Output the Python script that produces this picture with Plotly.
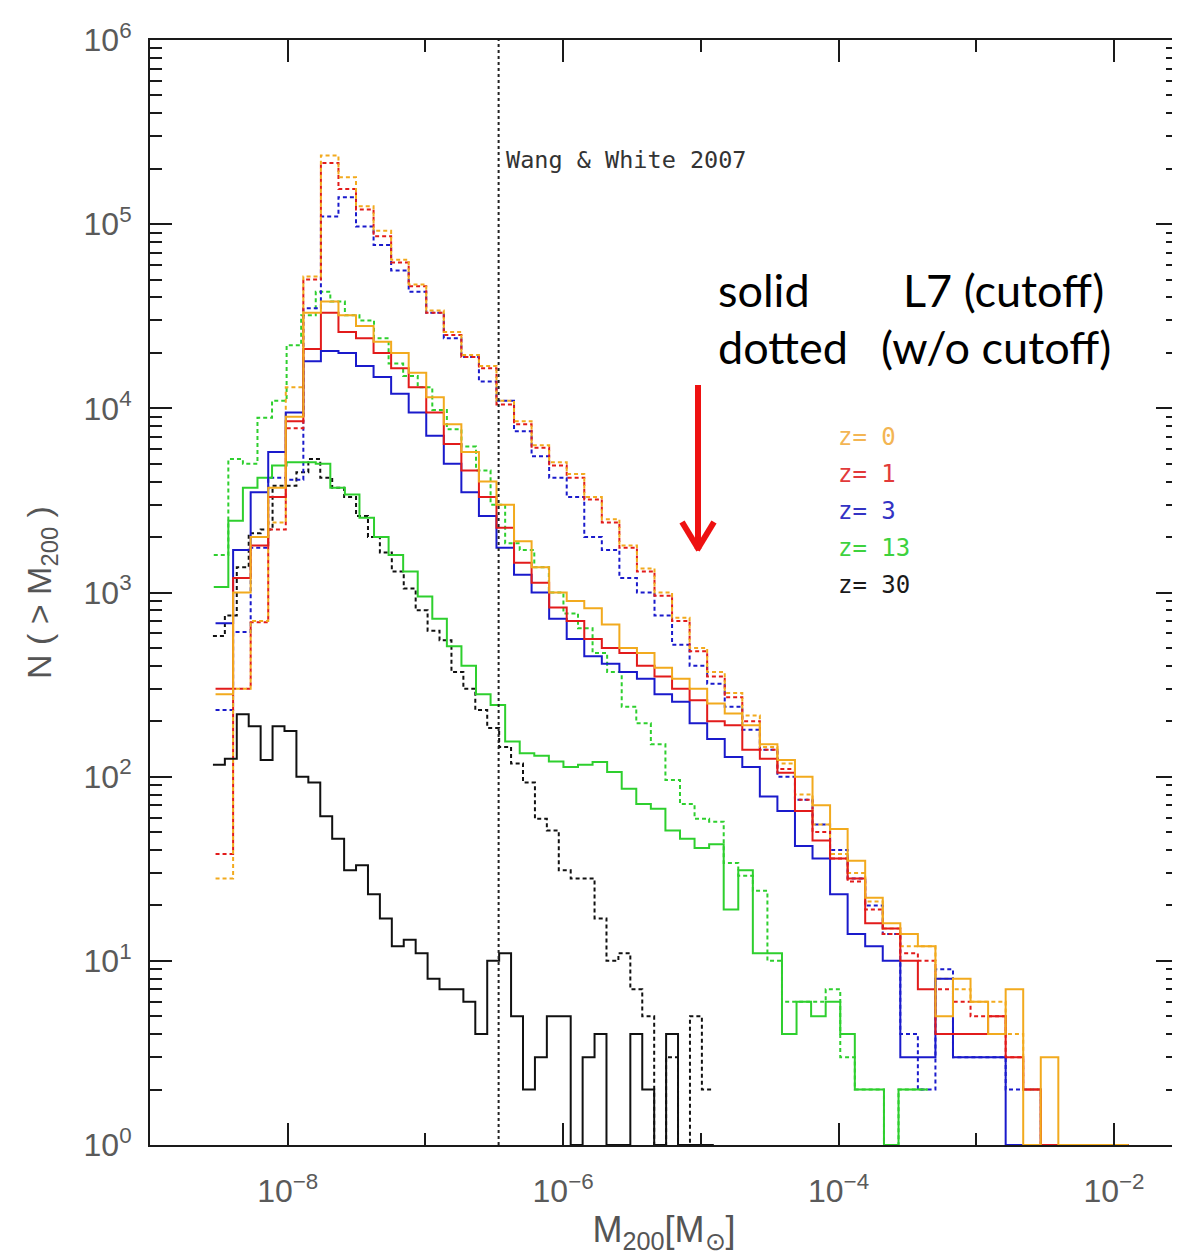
import plotly.graph_objects as go

# ---------------- data ----------------
# Histogram binning in log10(M200/Msun): first lower edge and bin width per redshift group
LOG_EDGE0_Z0_1_3 = -8.524
DLOG_Z0_1_3 = 0.1275
LOG_EDGE0_Z13 = -8.537
DLOG_Z13 = 0.1058
LOG_EDGE0_Z30 = -8.543
DLOG_Z30 = 0.0866

# counts per bin N(>M200) (0 = empty bin)
OS_Z0 = [280, 1000, 2000, 3700, 9000, 33000, 38000, 32000, 28000, 23000,
         20000, 15600, 11500, 8200, 5800, 4000, 3000, 1900, 1370, 1000,
         900, 820, 670, 500, 470, 390, 340, 300, 250, 220,
         190, 150, 123, 100, 70, 52, 35, 22, 16, 14,
         12, 5, 8, 6, 4, 7, 0, 3, 0, 0,
         0, 0]
OD_Z0 = [28, 300, 700, 2400, 13000, 52000, 236000, 180000, 125000, 92000,
         64000, 47000, 34000, 26000, 19500, 17000, 11000, 8500, 6300, 5100,
         4400, 3300, 2500, 1800, 1350, 1000, 730, 500, 370, 285,
         215, 145, 118, 80, 55, 38, 30, 21, 15, 12,
         12, 8, 7, 6, 6, 4, 2, 0, 0, 0,
         0, 0]
RS_Z1 = [300, 1200, 1800, 3300, 8500, 21000, 33000, 26000, 24000, 20000,
         16500, 13000, 9500, 6400, 4600, 3300, 2250, 1450, 1130, 830,
         700, 560, 500, 470, 400, 350, 300, 260, 200, 190,
         140, 125, 105, 65, 45, 36, 28, 16, 15, 10,
         7, 4, 4, 4, 5, 3, 2, 0, 0, 0,
         0, 0]
RD_Z1 = [38, 300, 690, 2200, 7800, 50000, 215000, 155000, 120000, 86000,
         62000, 46000, 33000, 25000, 19000, 16500, 10500, 8200, 6100, 4900,
         4200, 3200, 2400, 1750, 1300, 960, 700, 480, 350, 270,
         200, 140, 110, 75, 50, 36, 27, 19, 14, 11,
         10, 7, 6, 5, 5, 3, 2, 0, 0, 0,
         0, 0]
BS_Z3 = [680, 1700, 3500, 5800, 9500, 18000, 20500, 20000, 17000, 14800,
         12000, 9500, 7100, 5000, 3500, 2600, 1750, 1250, 1000, 720,
         560, 450, 410, 370, 340, 280, 255, 195, 160, 128,
         113, 78, 65, 42, 36, 23, 14, 12, 10, 3,
         3, 8, 3, 3, 3, 0, 0, 0, 0, 0,
         0, 0]
BD_Z3 = [230, 610, 1750, 4200, 4100, 35000, 110000, 140000, 97000, 77000,
         56000, 43000, 33000, 24000, 19000, 14000, 11000, 7500, 5500, 4200,
         3300, 2000, 1700, 1200, 1000, 750, 520, 400, 320, 240,
         180, 140, 100, 75, 55, 40, 28, 20, 14, 4,
         2, 9, 3, 3, 3, 2, 2, 0, 0, 0,
         0, 0]
GS_Z13 = [1070, 2450, 3700, 4200, 4900, 5100, 5100, 5000, 3700, 3400,
          2550, 2000, 1600, 1300, 950, 720, 510, 400, 280, 245,
          155, 134, 130, 121, 113, 116, 120, 106, 86, 71,
          67, 51, 46, 41, 43, 19, 31, 11, 11, 4,
          6, 5, 6, 4, 2, 2, 0, 2, 2]
GD_Z13 = [1600, 5300, 5000, 8900, 11000, 22000, 32000, 43000, 38000, 32000,
          30000, 24000, 17500, 15000, 13000, 9800, 7700, 6200, 4600, 3000,
          1850, 1700, 1370, 1000, 770, 640, 470, 370, 240, 195,
          150, 96, 71, 59, 57, 34, 29, 24, 10, 6,
          6, 6, 7, 3, 2, 2, 0, 2, 2]
KS_Z30 = [116, 125, 218, 188, 123, 188, 177, 100, 93, 61,
          46, 31, 33, 23, 17, 12, 13, 11, 8, 7,
          7, 6, 4, 10, 11, 5, 2, 3, 5, 5,
          0, 3, 4, 0, 0, 4, 2, 0, 4, 0,
          0, 0]
KD_Z30 = [580, 750, 1370, 2100, 2200, 3800, 3800, 4500, 5300, 4200,
          3700, 3300, 2600, 2000, 1650, 1300, 1050, 800, 620, 550,
          370, 300, 230, 184, 145, 118, 93, 59, 51, 31,
          28, 28, 17, 10, 11, 7, 5, 0, 3, 0,
          5, 2]

WW07_MASS = 3.4e-7
REDSHIFT_LABELS = ["z= 0", "z= 1", "z= 3", "z= 13", "z= 30"]
X_TICK_VALS = [1e-8, 1e-6, 1e-4, 1e-2]
X_TICK_TEXT = ["10<sup>−8</sup>", "10<sup>−6</sup>", "10<sup>−4</sup>", "10<sup>−2</sup>"]
X_MINOR_VALS = [1e-9, 1e-7, 1e-5, 1e-3]
Y_TICK_VALS = [1, 10, 100, 1e3, 1e4, 1e5, 1e6]
Y_TICK_TEXT = ["10<sup>%d</sup>" % i for i in range(7)]

# ---------------- styles ----------------
ORANGE = "#F2AA1E"
RED = "#E21B1B"
BLUE = "#1A1ACB"
GREEN = "#2ECF2E"
BLACK = "#111111"
LABEL_COLORS = ["#F3B553", "#E23A3A", "#3333C4", "#3ED23E", "#1A1A1A"]
DOT = "4px,3px"
TICK_FONT = dict(family="Liberation Sans, Arial, sans-serif", size=32, color="#5a5a5a")


def step_xy(log_edge0, dlog, counts):
    edges = [10 ** (log_edge0 + dlog * i) for i in range(len(counts) + 1)]
    ys = [max(c, 1) for c in counts]
    return edges, ys + [ys[-1]]


fig = go.Figure()

series = [
    (LOG_EDGE0_Z30, DLOG_Z30, KD_Z30, BLACK, DOT),
    (LOG_EDGE0_Z13, DLOG_Z13, GD_Z13, GREEN, DOT),
    (LOG_EDGE0_Z0_1_3, DLOG_Z0_1_3, BD_Z3, BLUE, DOT),
    (LOG_EDGE0_Z0_1_3, DLOG_Z0_1_3, RD_Z1, RED, DOT),
    (LOG_EDGE0_Z0_1_3, DLOG_Z0_1_3, OD_Z0, ORANGE, DOT),
    (LOG_EDGE0_Z30, DLOG_Z30, KS_Z30, BLACK, "solid"),
    (LOG_EDGE0_Z13, DLOG_Z13, GS_Z13, GREEN, "solid"),
    (LOG_EDGE0_Z0_1_3, DLOG_Z0_1_3, BS_Z3, BLUE, "solid"),
    (LOG_EDGE0_Z0_1_3, DLOG_Z0_1_3, RS_Z1, RED, "solid"),
    (LOG_EDGE0_Z0_1_3, DLOG_Z0_1_3, OS_Z0, ORANGE, "solid"),
]
for lo, d, counts, col, dash in series:
    xs, ys = step_xy(lo, d, counts)
    fig.add_trace(go.Scatter(x=xs, y=ys, mode="lines", line_shape="hv",
                             line=dict(color=col, width=2, dash=dash),
                             hoverinfo="skip", showlegend=False))

# Wang & White 2007 vertical line
fig.add_trace(go.Scatter(x=[WW07_MASS, WW07_MASS], y=[1, 1e6], mode="lines",
                         line=dict(color="#222", width=2, dash="3px,3px"),
                         hoverinfo="skip", showlegend=False))

axis_common = dict(type="log", showline=True, linecolor="#1a1a1a", linewidth=2,
                   mirror="allticks", ticks="inside", ticklen=22, tickwidth=1.6,
                   tickcolor="#1a1a1a", showgrid=False, zeroline=False,
                   automargin=False, tickfont=TICK_FONT)

fig.update_xaxes(**axis_common, range=[-9, -1.535],
                 tickmode="array", tickvals=X_TICK_VALS, ticktext=X_TICK_TEXT,
                 ticklabelstandoff=17,
                 minor=dict(tickmode="array", tickvals=X_MINOR_VALS, ticks="inside",
                            ticklen=12, tickwidth=1.6, tickcolor="#1a1a1a", showgrid=False),
                 title=dict(text="M<sub>200</sub>[M<sub>⊙</sub>]", standoff=6,
                            font=dict(family="Liberation Sans, Arial, sans-serif", size=36, color="#555")))

y_minor = [m * 10 ** e for e in range(6) for m in range(2, 10)]
fig.update_yaxes(**axis_common, range=[0, 6],
                 tickmode="array", tickvals=Y_TICK_VALS, ticktext=Y_TICK_TEXT,
                 ticklabelstandoff=10,
                 minor=dict(tickmode="array", tickvals=y_minor, ticks="inside",
                            ticklen=12, tickwidth=1.6, tickcolor="#1a1a1a", showgrid=False),
                 title=dict(text="N ( > M<sub>200</sub> )", standoff=22,
                            font=dict(family="Liberation Sans, Arial, sans-serif", size=34, color="#555")))

# the page body adds an 8px offset; figure-coordinate plot box that lands on the reference's box
OFF = 8
PL, PR, PT, PB = 150 - OFF, 1178 - OFF, 40 - OFF, 1145 - OFF
W, H = 1180, 1257


def px(x):
    # x given in screen pixels of the reference
    return (x - OFF - PL) / (PR - PL)


def py(y):
    return (PB - (y - OFF)) / (PB - PT)


BIG_FONT = dict(family="Lato, Open Sans, sans-serif", size=45, color="black")
annotations = [
    dict(x=px(504), y=py(160), text="Wang & White 2007", xanchor="left", yanchor="middle",
         font=dict(family="DejaVu Sans Mono", size=23.5, color="#333")),
    dict(x=px(716), y=py(290), text="solid", xanchor="left", yanchor="middle", font=BIG_FONT),
    dict(x=px(1106), y=py(290), text="L7 (cutoff)", xanchor="right", yanchor="middle", font=BIG_FONT),
    dict(x=px(716), y=py(347), text="dotted", xanchor="left", yanchor="middle", font=BIG_FONT),
    dict(x=px(1113), y=py(347), text="(w/o cutoff)", xanchor="right", yanchor="middle", font=BIG_FONT),
]
for i, (lab, col) in enumerate(zip(REDSHIFT_LABELS, LABEL_COLORS)):
    annotations.append(dict(x=px(836), y=py(437 + 37 * i), text=lab, xanchor="left", yanchor="middle",
                            font=dict(family="DejaVu Sans Mono", size=24, color=col)))
for a in annotations:
    a.update(xref="paper", yref="paper", showarrow=False)

ARROW = dict(color="#EE1111", width=6)
shapes = [
    dict(type="line", xref="paper", yref="paper", x0=px(698), x1=px(698), y0=py(385), y1=py(548),
         line=ARROW),
    dict(type="line", xref="paper", yref="paper", x0=px(682), x1=px(699), y0=py(522), y1=py(550),
         line=ARROW),
    dict(type="line", xref="paper", yref="paper", x0=px(714), x1=px(697), y0=py(522), y1=py(550),
         line=ARROW),
]

fig.update_layout(width=W, height=H,
                  margin=dict(l=PL, r=W - PR, t=PT, b=H - PB),
                  plot_bgcolor="white", paper_bgcolor="white", showlegend=False,
                  annotations=annotations, shapes=shapes)

fig.write_html("out.html")
